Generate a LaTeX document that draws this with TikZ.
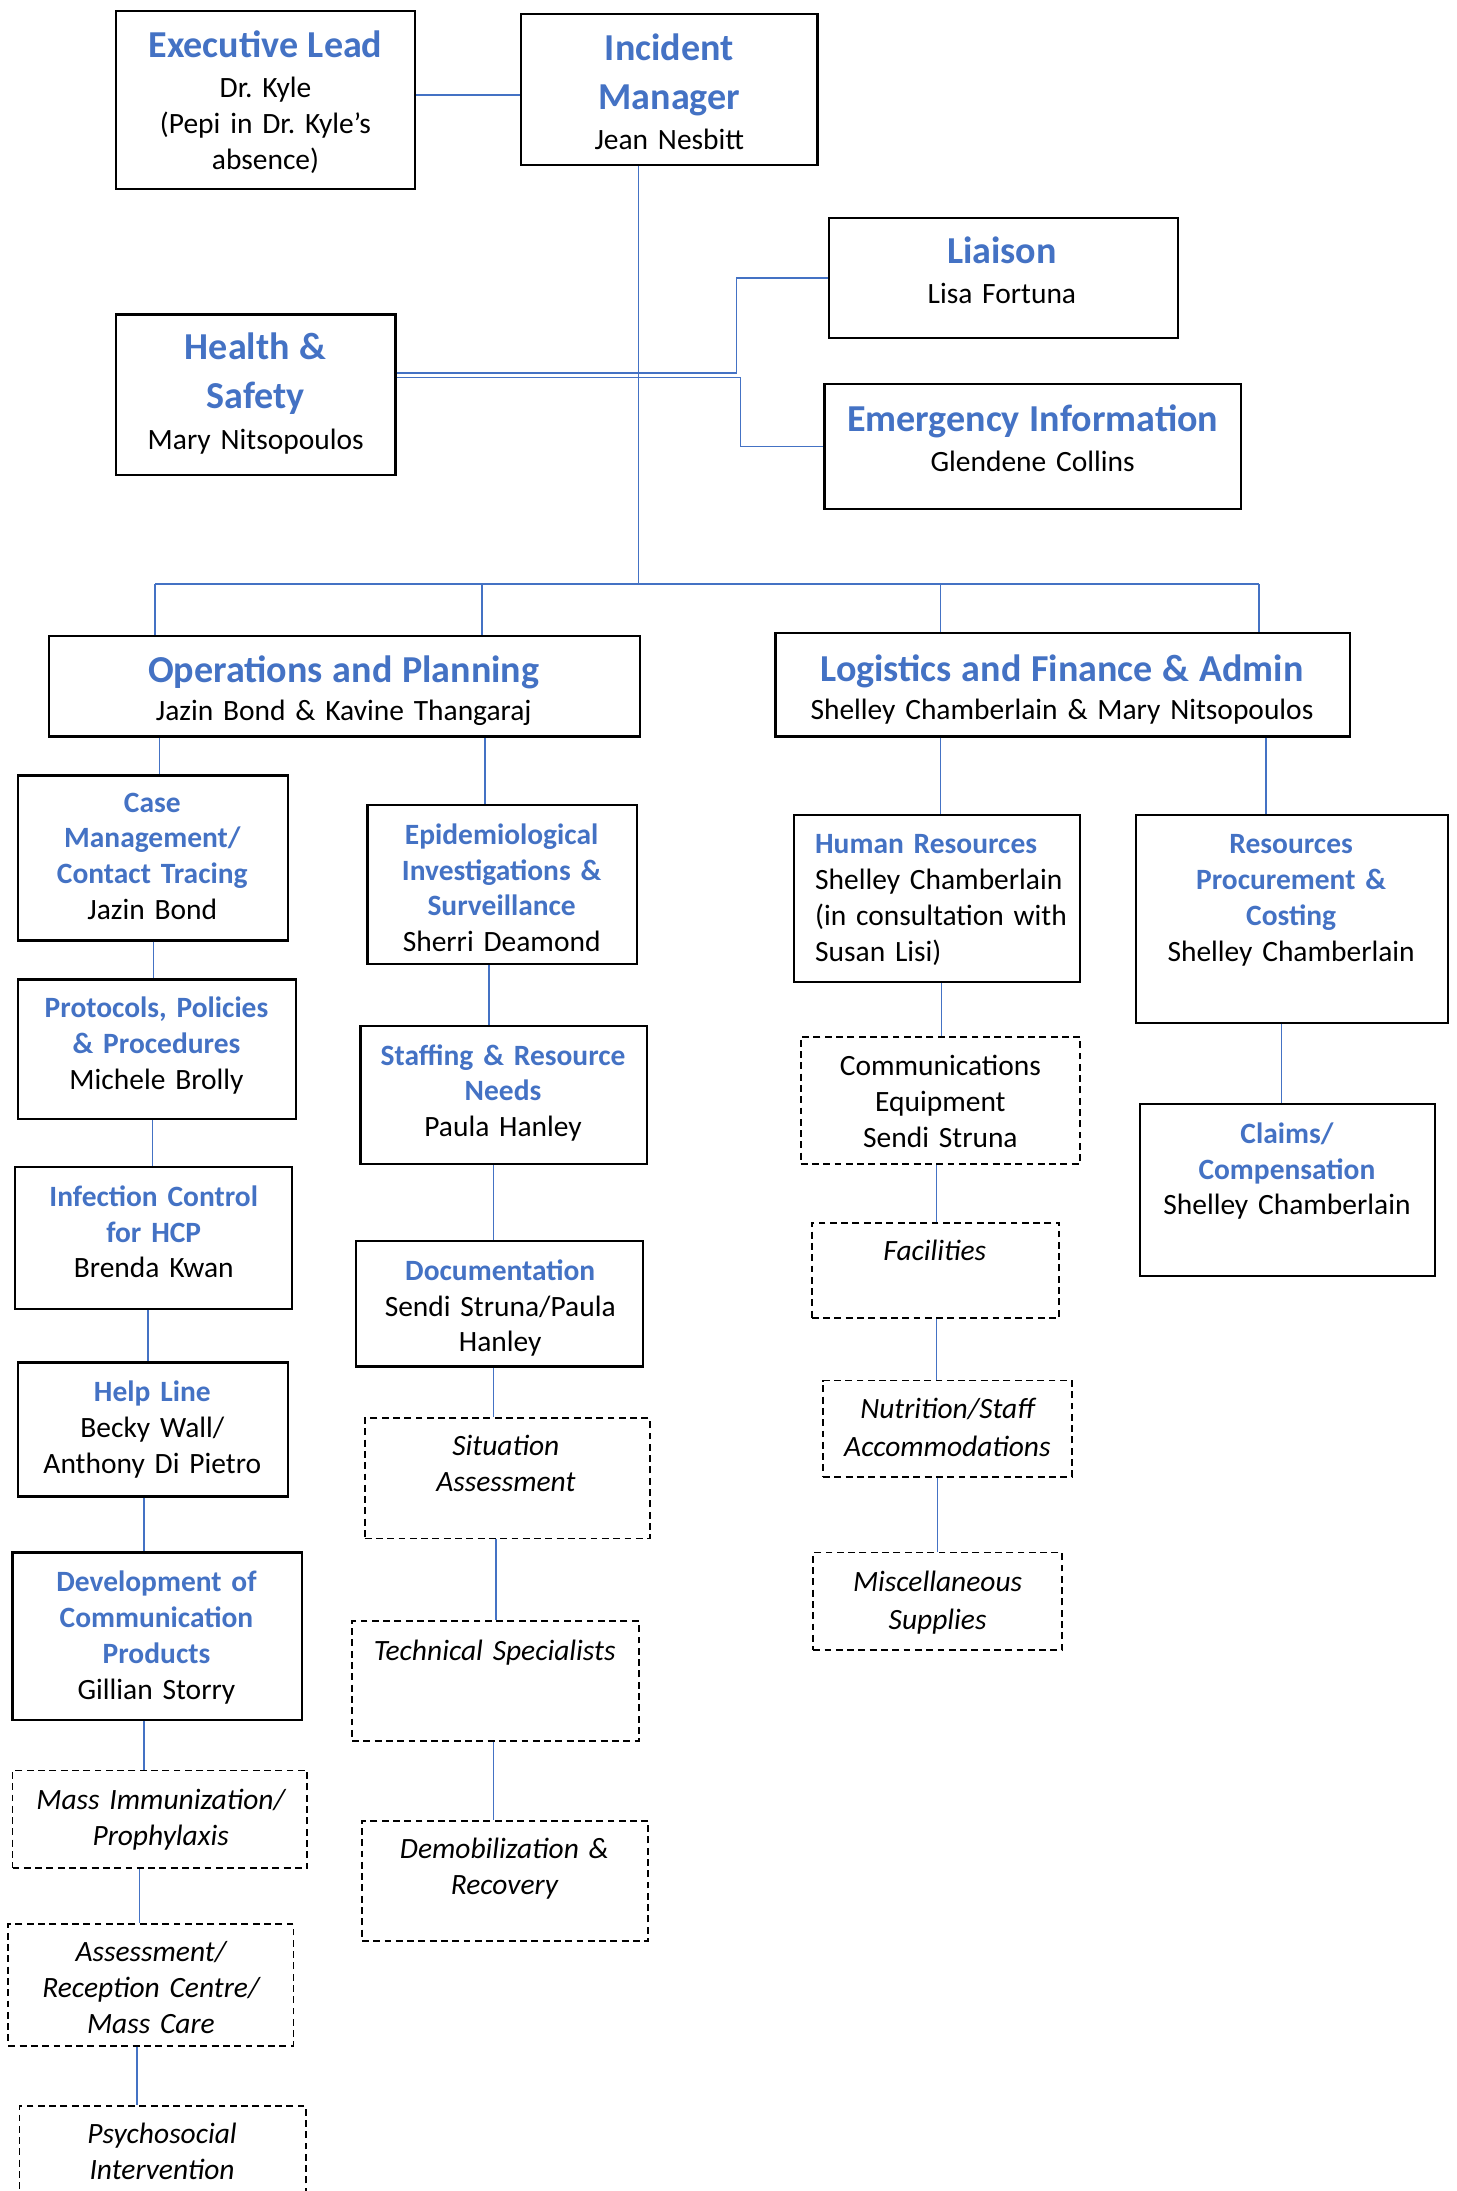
\documentclass[tikz,border=0pt]{standalone}
\usepackage{fontspec}
\setmainfont{Carlito}
\usetikzlibrary{fit}

\definecolor{hblue}{HTML}{4472C4}
\newcommand{\hd}{\fontsize{15.5}{19.9}\selectfont\bfseries\color{hblue}}
\newcommand{\sh}{\bfseries\color{hblue}}
\setlength{\parindent}{0pt}
\frenchspacing

\begin{document}
\begin{tikzpicture}[x=0.2mm, y=-0.2mm,
  box/.style={draw, line width=0.9pt, inner sep=0pt},
  dbox/.style={box, line width=0.75pt, dash pattern=on 2.8pt off 1.8pt},
  txt/.style={anchor=north, inner sep=0pt, align=center, text width=80mm, font=\fontsize{12}{14.6}\selectfont},
  itxt/.style={txt, font=\fontsize{12}{14.6}\selectfont\itshape},
  conn/.style={draw=hblue, line width=0.55pt}]

\useasboundingbox (0,0) rectangle (1042,1568);
\clip (0,0) rectangle (1042,1568);

% command
\node[box, fit={(83,8) (297,135)}] (exec) {};
\node[txt] (exec-t) at (190,22) {{\hd Executive Lead\par}\vspace{1.6pt}Dr. Kyle\\(Pepi in Dr. Kyle’s\\absence)};

\node[box, fit={(373,10) (585,118)}] (im) {};
\node[txt] (im-t) at (479,24) {{\hd Incident\\Manager\par}\vspace{1.8pt}Jean Nesbitt};

\draw[conn] (exec.east |- 0,68) -- (im.west |- 0,68);

% staff
\node[box, fit={(593,156) (843,242)}] (liaison) {};
\node[txt] (liaison-t) at (717,169) {{\hd Liaison\par}\vspace{1.6pt}Lisa Fortuna};

\node[box, fit={(83,225) (283,340)}] (hs) {};
\node[txt] (hs-t) at (183,238) {{\hd Health \&\\Safety\par}\vspace{2pt}Mary Nitsopoulos};

\node[box, fit={(590,275) (888,364)}] (ei) {};
\node[txt] (ei-t) at (739,289) {{\hd Emergency Information\par}\vspace{2pt}Glendene Collins};

\coordinate (hs-up) at (527,267);
\coordinate (hs-dn) at (530,270);
\draw[conn] (hs.east |- hs-up) -- (hs-up) |- (liaison.west);
\draw[conn] (hs.east |- hs-dn) -- (hs-dn) |- (ei.west);

% sections
\node[box, fit={(35,455) (458,527)}] (ops) {};
\node[txt] (ops-t) at (246,469) {{\hd Operations and Planning\par}\vspace{0.8pt}Jazin Bond \& Kavine Thangaraj};

\node[box, fit={(555,453) (966,527)}] (lfa) {};
\node[txt] (lfa-t) at (760,468) {{\hd Logistics and Finance \& Admin\par}\vspace{0.8pt}Shelley Chamberlain \& Mary Nitsopoulos};

\coordinate (bar-a) at (111,418);
\coordinate (bar-b) at (345,418);
\coordinate (bar-c) at (457,418);
\coordinate (bar-d) at (673,418);
\coordinate (bar-e) at (901,418);
\draw[conn] (im.south -| bar-c) -- (bar-c);
\draw[conn] (bar-a) -- (bar-e);
\draw[conn] (bar-a) -- (bar-a |- ops.north);
\draw[conn] (bar-b) -- (bar-b |- ops.north);
\draw[conn] (bar-d) -- (bar-d |- lfa.north);
\draw[conn] (bar-e) -- (bar-e |- lfa.north);

% operations, first column
\node[box, fit={(13,555) (206,673)}] (case) {};
\node[txt] (case-t) at (109,567) {{\sh Case\\Management/\\Contact Tracing\par}Jazin Bond};

\node[box, fit={(13,701) (212,801)}] (prot) {};
\node[txt] (prot-t) at (112,713) {{\sh Protocols, Policies\\\& Procedures\par}Michele Brolly};

\node[box, fit={(11,835) (209,937)}] (inf) {};
\node[txt] (inf-t) at (110,848) {{\sh Infection Control\\for HCP\par}Brenda Kwan};

\node[box, fit={(13,975) (206,1071)}] (help) {};
\node[txt] (help-t) at (109,988) {{\sh Help Line\par}Becky Wall/\\Anthony Di Pietro};

\node[box, fit={(9,1111) (216,1231)}] (dev) {};
\node[txt] (dev-t) at (112,1124) {{\sh Development of\\Communication\\Products\par}Gillian Storry};

\node[dbox, fit={(9,1267) (220,1337)}] (mass) {};
\node[itxt] (mass-t) at (115,1280) {Mass Immunization/\\Prophylaxis};

\node[dbox, fit={(6,1377) (210,1464)}] (assess) {};
\node[itxt] (assess-t) at (108,1389) {Assessment/\\Reception Centre/\\Mass Care};

\node[dbox, fit={(14,1507) (219,1600)}] (psych) {};
\node[itxt] (psych-t) at (116,1519) {Psychosocial\\Intervention};

\draw[conn] (ops.south -| 114,0) -- (case.north -| 114,0);
\draw[conn] (case.south -| 110,0) -- (prot.north -| 110,0);
\draw[conn] (prot.south -| 109,0) -- (inf.north -| 109,0);
\draw[conn] (inf.south -| 106,0) -- (help.north -| 106,0);
\draw[conn] (help.south -| 103,0) -- (dev.north -| 103,0);
\draw[conn] (dev.south -| 103,0) -- (mass.north -| 103,0);
\draw[conn] (mass.south -| 100,0) -- (assess.north -| 100,0);
\draw[conn] (assess.south -| 98,0) -- (psych.north -| 98,0);

% operations, second column
\node[box, fit={(263,576) (456,690)}] (epi) {};
\node[txt] (epi-t) at (359,589) {{\sh Epidemiological\\Investigations \&\\Surveillance\par}Sherri Deamond};

\node[box, fit={(258,734) (463,833)}] (staff) {};
\node[txt] (staff-t) at (360,747) {{\sh Staffing \& Resource\\Needs\par}Paula Hanley};

\node[box, fit={(255,888) (460,978)}] (doc) {};
\node[txt] (doc-t) at (358,901) {{\sh Documentation\par}Sendi Struna/Paula\\Hanley};

\node[dbox, fit={(261,1015) (465,1101)}] (sit) {};
\node[itxt] (sit-t) at (362,1027) {Situation\\Assessment};

\node[dbox, fit={(252,1160) (457,1246)}] (tech) {};
\node[itxt] (tech-t) at (354,1173) {Technical Specialists};

\node[dbox, fit={(259,1303) (464,1389)}] (demob) {};
\node[itxt] (demob-t) at (361,1315) {Demobilization \&\\Recovery};

\draw[conn] (ops.south -| 347,0) -- (epi.north -| 347,0);
\draw[conn] (epi.south -| 350,0) -- (staff.north -| 350,0);
\draw[conn] (staff.south -| 353,0) -- (doc.north -| 353,0);
\draw[conn] (doc.south -| 353,0) -- (sit.north -| 353,0);
\draw[conn] (sit.south -| 355,0) -- (tech.north -| 355,0);
\draw[conn] (tech.south -| 353,0) -- (demob.north -| 353,0);

% logistics, first column
\node[box, fit={(568,583) (773,703)}] (hr) {};
\node[txt, anchor=north west, align=left] (hr-t) at (583,597) {{\sh Human Resources\par}Shelley Chamberlain\\(in consultation with\\Susan Lisi)};

\node[dbox, fit={(573,742) (773,833)}] (comm) {};
\node[txt] (comm-t) at (673,755) {Communications\\Equipment\\Sendi Struna};

\node[dbox, fit={(581,875) (758,943)}] (fac) {};
\node[itxt] (fac-t) at (669,887) {Facilities};

\node[dbox, fit={(589,988) (767,1057)}] (nutr) {};
\node[itxt] (nutr-t) at (678,1000) {Nutrition/Staff\\[1pt]Accommodations};

\node[dbox, fit={(582,1111) (760,1181)}] (misc) {};
\node[itxt] (misc-t) at (671,1124) {Miscellaneous\\[1pt]Supplies};

\draw[conn] (lfa.south -| 673,0) -- (hr.north -| 673,0);
\draw[conn] (hr.south -| 674,0) -- (comm.north -| 674,0);
\draw[conn] (comm.south -| 670,0) -- (fac.north -| 670,0);
\draw[conn] (fac.south -| 670,0) -- (nutr.north -| 670,0);
\draw[conn] (nutr.south -| 671,0) -- (misc.north -| 671,0);

% logistics, second column
\node[box, fit={(813,583) (1036,732)}] (res) {};
\node[txt] (res-t) at (924,597) {{\sh Resources\\Procurement \&\\Costing\par}Shelley Chamberlain};

\node[box, fit={(816,790) (1027,913)}] (claims) {};
\node[txt] (claims-t) at (921,803) {{\sh Claims/\\Compensation\par}Shelley Chamberlain};

\draw[conn] (lfa.south -| 906,0) -- (res.north -| 906,0);
\draw[conn] (res.south -| 917,0) -- (claims.north -| 917,0);

\end{tikzpicture}
\end{document}
